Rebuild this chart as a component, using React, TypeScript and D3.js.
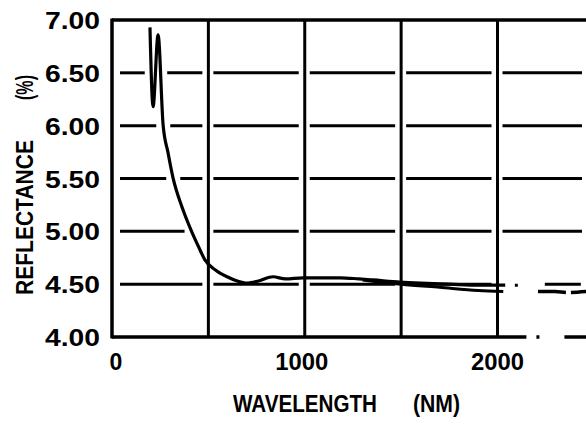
import React from "react";
import * as d3 from "d3";

const wavelength = [197, 213, 239, 265, 290, 316, 365, 415, 450, 482, 540, 597, 650, 700, 760, 835, 900, 990, 1080, 1183, 1280, 1354, 1494, 1600, 1753, 1900, 2040];
const reflectance = [6.93, 6.18, 6.86, 6.01, 5.75, 5.51, 5.22, 4.99, 4.85, 4.73, 4.63, 4.57, 4.53, 4.51, 4.53, 4.57, 4.55, 4.56, 4.56, 4.56, 4.55, 4.54, 4.52, 4.51, 4.50, 4.49, 4.49];
const wavelength2 = [1300, 1500, 1700, 1900, 2030];
const reflectance2 = [4.54, 4.50, 4.47, 4.44, 4.43];
const tailUpperWl = [2090, 2100, 2230, 2330, 2460];
const tailUpperR = [4.49, 4.49, 4.50, 4.50, 4.50];
const tailLowerWl = [2210, 2300, 2360, 2460];
const tailLowerR = [4.43, 4.43, 4.42, 4.43];

const yTicks = [7.0, 6.5, 6.0, 5.5, 5.0, 4.5, 4.0];
const xTicks = [0, 1000, 2000];
const xGrid = [500, 1000, 1500, 2000];
const hGrid = [6.5, 6.0, 5.5, 5.0, 4.5];
const cells = [0, 500, 1000, 1500, 2000, 2500];

const W = 586;
const H = 427;
const FONT = "'Liberation Sans', Arial, sans-serif";

export default function App() {
  const x = d3.scaleLinear().domain([0, 2000]).range([112, 497.5]);
  const y = d3.scaleLinear().domain([4, 7]).range([337, 20]);
  const line = d3
    .line<[number, number]>()
    .x((d) => x(d[0]))
    .y((d) => y(d[1]))
    .curve(d3.curveMonotoneX);

  const main = wavelength.map((w, i) => [w, reflectance[i]] as [number, number]);
  const second = wavelength2.map((w, i) => [w, reflectance2[i]] as [number, number]);
  const tailU = tailUpperWl.map((w, i) => [w, tailUpperR[i]] as [number, number]);
  const tailL = tailLowerWl.map((w, i) => [w, tailLowerR[i]] as [number, number]);

  // crossings of steep part of curve with grid levels → gaps
  const crossings = (g: number) => {
    const xs: number[] = [];
    for (let i = 0; i < main.length - 1; i++) {
      const [w0, v0] = main[i];
      const [w1, v1] = main[i + 1];
      if (w1 > 600) break;
      if ((v0 - g) * (v1 - g) <= 0 && v0 !== v1) {
        const t = (g - v0) / (v1 - v0);
        xs.push(x(w0 + t * (w1 - w0)));
      }
    }
    return xs;
  };

  const segs: { x1: number; x2: number; y: number }[] = [];
  hGrid.forEach((g) => {
    const cx = crossings(g);
    for (let c = 0; c < cells.length - 1; c++) {
      if (g === 4.5 && c === cells.length - 2) continue;
      let a = x(cells[c]) + (c === 0 ? 8 : 5);
      const b = Math.min(x(cells[c + 1]) - 6, W - 4);
      const gaps = cx
        .filter((p) => p > a - 7 && p < b + 7)
        .map((p) => [p - 7, p + 7])
        .sort((m, n) => m[0] - n[0]);
      const merged: number[][] = [];
      gaps.forEach((gp) => {
        if (merged.length && gp[0] <= merged[merged.length - 1][1]) {
          merged[merged.length - 1][1] = Math.max(merged[merged.length - 1][1], gp[1]);
        } else merged.push([...gp]);
      });
      merged.forEach(([g0, g1]) => {
        if (g0 - a > 5) segs.push({ x1: a, x2: Math.min(g0, b), y: y(g) });
        a = Math.max(a, g1);
      });
      if (b - a > 5) segs.push({ x1: a, x2: b, y: y(g) });
    }
  });

  const bottomY = y(4);
  const bottomLen = W - x(0);

  return (
    <svg
      width={W}
      height={H}
      style={{ position: "absolute", left: 0, top: 0, background: "#fff" }}
      fontFamily={FONT}
      fontWeight="bold"
    >
      <rect width={W} height={H} fill="#fff" />
      {xGrid.map((v) => (
        <line key={v} x1={x(v)} x2={x(v)} y1={y(7)} y2={y(4)} stroke="#000" strokeWidth={3} />
      ))}
      {segs.map((s, i) => (
        <line key={i} x1={s.x1} x2={s.x2} y1={s.y} y2={s.y} stroke="#000" strokeWidth={3} />
      ))}
      <line x1={x(0)} x2={x(0)} y1={y(7) - 1.5} y2={y(4) + 1.5} stroke="#000" strokeWidth={3.5} />
      <line x1={x(0)} x2={W} y1={y(7)} y2={y(7)} stroke="#000" strokeWidth={3.5} />
      <line
        x1={x(0)}
        x2={W}
        y1={bottomY}
        y2={bottomY}
        stroke="#000"
        strokeWidth={3.5}
        strokeDasharray={`${x(2150) - x(0)} 10 3 25 ${bottomLen}`}
      />
      <path d={line(main) || ""} fill="none" stroke="#000" strokeWidth={3.2} strokeLinejoin="round" />
      <path d={line(second) || ""} fill="none" stroke="#000" strokeWidth={3} />
      <path d={line(tailU) || ""} fill="none" stroke="#000" strokeWidth={3} strokeDasharray="3 27 36 6 40" />
      <path d={line(tailL) || ""} fill="none" stroke="#000" strokeWidth={3.5} strokeDasharray="28 5 40" />
      {yTicks.map((v) => (
        <text key={v} x={100} y={y(v) + 9} textAnchor="end" fontSize={24} textLength={55} lengthAdjust="spacingAndGlyphs">
          {v.toFixed(2)}
        </text>
      ))}
      {xTicks.map((v) => (
        <text
          key={v}
          x={x(v) + (v === 0 ? 4 : v === 1000 ? -3 : 0)}
          y={370}
          textAnchor="middle"
          fontSize={23}
          {...(v === 0 ? {} : { textLength: 53, lengthAdjust: "spacingAndGlyphs" })}
        >
          {String(v)}
        </text>
      ))}
      <text x={233} y={412} fontSize={23} textLength={144} lengthAdjust="spacingAndGlyphs">
        WAVELENGTH
      </text>
      <text x={413} y={412} fontSize={23} textLength={47} lengthAdjust="spacingAndGlyphs">
        (NM)
      </text>
      <text transform="translate(33,295) rotate(-90)" fontSize={24} textLength={155} lengthAdjust="spacingAndGlyphs">
        REFLECTANCE
      </text>
      <text transform="translate(33,100) rotate(-90)" fontSize={24} textLength={25} lengthAdjust="spacingAndGlyphs">
        (%)
      </text>
    </svg>
  );
}
